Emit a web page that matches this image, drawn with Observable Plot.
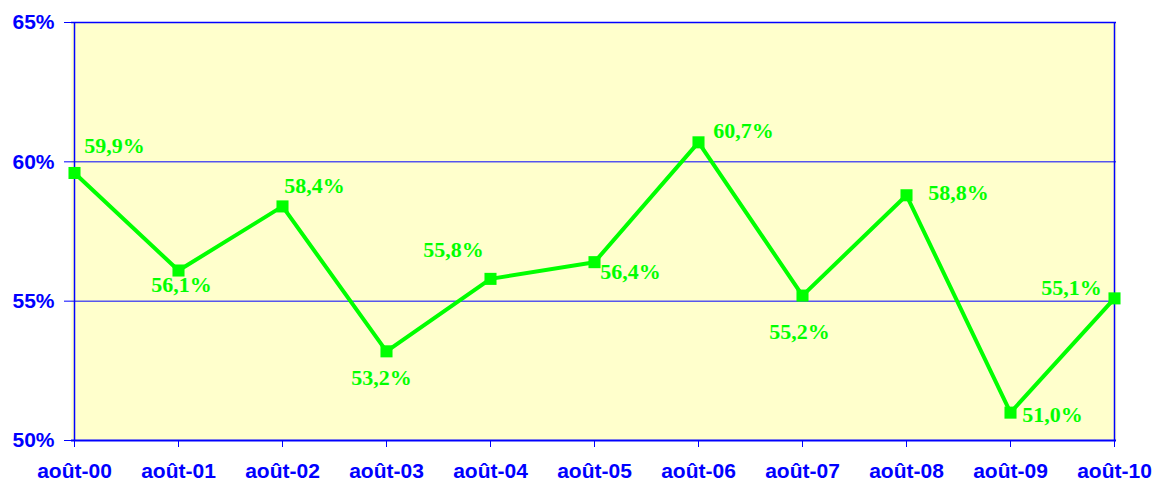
<!DOCTYPE html>
<html>
<head>
<meta charset="utf-8">
<script src="https://cdn.jsdelivr.net/npm/d3@7"></script>
<script src="https://cdn.jsdelivr.net/npm/@observablehq/plot@0.6"></script>
<style>
  html, body { margin: 0; padding: 0; background: #fff; }
</style>
</head>
<body>
<div id="chart"></div>
<script>
const categories = ["août-00","août-01","août-02","août-03","août-04","août-05","août-06","août-07","août-08","août-09","août-10"];
const values = [59.6, 56.1, 58.4, 53.2, 55.8, 56.4, 60.7, 55.2, 58.8, 51.0, 55.1];
const valueLabels = ["59,9%","56,1%","58,4%","53,2%","55,8%","56,4%","60,7%","55,2%","58,8%","51,0%","55,1%"];
const yTicks = [50, 55, 60, 65];
const gridValues = [55, 60];

// label placement (offsets in px relative to each point)
const labelOffsets = [[40,-27],[3,14],[32,-20],[-5,27],[-37,-29],[36,10],[45,-11],[-3,36],[52,-2],[42,2],[-43,-10]];

const data = categories.map((c, i) => ({cat: c, v: values[i], label: valueLabels[i]}));

const blue = "#0000FF";
const green = "#00FF00";

const chart = Plot.plot({
  width: 1157,
  height: 484,
  marginLeft: 71,
  marginRight: 41,
  marginTop: 22,
  marginBottom: 44,
  style: {background: "#fff", overflow: "visible"},
  x: {type: "point", domain: categories, padding: 0, label: null},
  y: {domain: [50, 65], label: null},
  marks: [
    Plot.frame({fill: "#FFFFCC", stroke: null}),
    Plot.ruleY(gridValues, {stroke: blue, strokeWidth: 1}),
    Plot.ruleY([65], {stroke: blue, strokeWidth: 1.5}),
    Plot.ruleX([categories[categories.length - 1]], {stroke: blue, strokeWidth: 1.5}),
    Plot.axisY({
      ticks: yTicks, tickFormat: d => d + "%", tickSize: 7, tickPadding: 10,
      stroke: blue, fill: blue, fontSize: 21, fontWeight: "bold",
      fontFamily: "Liberation Sans, Arial, sans-serif", label: null
    }),
    Plot.axisX({
      tickSize: 7, tickPadding: 16, stroke: blue, fill: blue, fontSize: 21,
      fontWeight: "bold", fontFamily: "Liberation Sans, Arial, sans-serif", label: null
    }),
    Plot.ruleX([categories[0]], {stroke: blue, strokeWidth: 1.5}),
    Plot.ruleY([50], {stroke: blue, strokeWidth: 2}),
    Plot.line(data, {x: "cat", y: "v", stroke: green, strokeWidth: 4}),
    Plot.dot(data, {x: "cat", y: "v", symbol: "square", r: 6.8, fill: green, stroke: null}),
    ...data.map((d, i) => Plot.text([d], {
      x: "cat", y: "v", text: "label",
      dx: labelOffsets[i][0], dy: labelOffsets[i][1],
      fill: green, fontSize: 22, fontWeight: "bold",
      fontFamily: "Liberation Serif, 'Times New Roman', serif"
    }))
  ]
});

document.getElementById("chart").appendChild(chart);
</script>
</body>
</html>
